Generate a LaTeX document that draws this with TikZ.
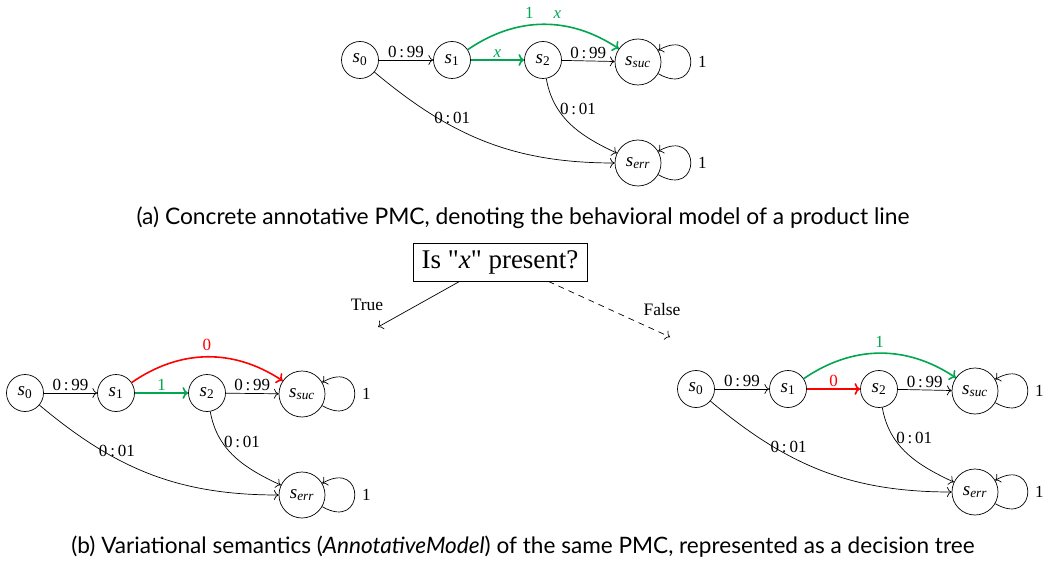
\documentclass[tikz,border=0pt]{standalone}
\usepackage{fontspec}
\usetikzlibrary{arrows.meta}
\setmainfont{Liberation Serif}
\newfontfamily\capfont{Lato}
\newfontfamily\qfont{Liberation Serif}[Ligatures=TeXOff]
\definecolor{pgreen}{RGB}{0,166,80}
\definecolor{pred}{RGB}{255,0,0}
\newcommand{\sv}[1]{\textit{s}\textsubscript{#1}}
\newcommand{\pr}[2]{#1\,:\,#2}
\tikzset{
  st/.style={draw, circle, minimum size=37pt, inner sep=0pt, line width=0.7pt, font=\fontsize{19}{21}\selectfont},
  stb/.style={st, minimum size=46pt},
  arr/.style={-{To[scale=1.5]}, line width=0.7pt},
  garr/.style={-{To[scale=1.1]}, line width=1.6pt, draw=pgreen},
  rarr/.style={-{To[scale=1.1]}, line width=1.6pt, draw=pred},
  lab/.style={font=\fontsize{17}{19}\selectfont, inner sep=2pt},
  glab/.style={lab, text=pgreen},
  rlab/.style={lab, text=pred},
  capt/.style={font=\capfont\fontsize{22.8}{26}\selectfont},
  captb/.style={font=\capfont\fontsize{22.6}{26}\selectfont},
  qbox/.style={draw, line width=0.8pt, minimum width=174pt, minimum height=38pt, font=\qfont\fontsize{27}{30}\selectfont},
  tlab/.style={font=\fontsize{17.5}{20}\selectfont},
  lp/.style={out=-30,in=30,looseness=5.5},
  lpl/.style={lab, right, inner sep=7pt},
  arcl/.style={above, inner sep=5pt},
}
\begin{document}
\begin{tikzpicture}[x=1pt,y=1pt]
\useasboundingbox (0,0) rectangle (1043,-569);
% ---------- (a) top diagram ----------
\node[st] (a0) at (360,-60) {\sv{0}};
\node[st] (a1) at (452,-60) {\sv{1}};
\node[st] (a2) at (543,-60) {\sv{2}};
\node[stb] (asuc) at (638,-62) {\sv{\textit{suc}}};
\node[stb] (aerr) at (638,-163) {\sv{\textit{err}}};
\draw[arr] (a0) -- node[lab,above]{\pr{0}{99}} (a1);
\draw[garr] (a1) -- node[glab,above]{\textit{x}} (a2);
\draw[arr] (a2) -- node[lab,above]{\pr{0}{99}} (asuc);
\draw[garr] (a1) to[bend left=34] node[glab,arcl]{1\hspace{20pt}\textit{x}} (asuc);
\draw[arr] (a0) to[out=-40,in=180] node[lab,above,pos=0.35]{\pr{0}{01}} (aerr);
\draw[arr] (a2) to[out=-80,in=155] node[lab,right,pos=0.3]{\pr{0}{01}} (aerr);
\draw[arr] (asuc) to[lp] node[lpl]{1} (asuc);
\draw[arr] (aerr) to[lp] node[lpl]{1} (aerr);
\node[capt] (capa) at (523,-218) {(a) Concrete annotative PMC, denoting the behavioral model of a product line};
% ---------- decision ----------
\node[qbox] (q) at (500,-262) {Is "\textit{x}" present?};
\coordinate (tstart) at ([xshift=47pt]q.south west);
\coordinate (tend) at (378,-327);
\coordinate (fstart) at ([xshift=-39pt]q.south east);
\coordinate (fend) at (670,-337);
\draw[arr] (tstart) -- (tend);
\node[tlab] (tl) at (367,-305) {True};
\draw[arr, dash pattern=on 6pt off 5pt] (fstart) -- (fend);
\node[tlab] (fl) at (662,-310) {False};
% ---------- (b) left: x true ----------
\node[st] (b0) at (25,-393) {\sv{0}};
\node[st] (b1) at (116,-393) {\sv{1}};
\node[st] (b2) at (207,-393) {\sv{2}};
\node[stb] (bsuc) at (302,-394) {\sv{\textit{suc}}};
\node[stb] (berr) at (302,-495) {\sv{\textit{err}}};
\draw[arr] (b0) -- node[lab,above]{\pr{0}{99}} (b1);
\draw[garr] (b1) -- node[glab,above]{1} (b2);
\draw[arr] (b2) -- node[lab,above]{\pr{0}{99}} (bsuc);
\draw[rarr] (b1) to[bend left=34] node[rlab,arcl]{0} (bsuc);
\draw[arr] (b0) to[out=-40,in=180] node[lab,above,pos=0.35]{\pr{0}{01}} (berr);
\draw[arr] (b2) to[out=-80,in=155] node[lab,right,pos=0.3]{\pr{0}{01}} (berr);
\draw[arr] (bsuc) to[lp] node[lpl]{1} (bsuc);
\draw[arr] (berr) to[lp] node[lpl]{1} (berr);
% ---------- (b) right: x false ----------
\node[st] (c0) at (696,-389) {\sv{0}};
\node[st] (c1) at (788,-389) {\sv{1}};
\node[st] (c2) at (879,-389) {\sv{2}};
\node[stb] (csuc) at (975,-391) {\sv{\textit{suc}}};
\node[stb] (cerr) at (975,-492) {\sv{\textit{err}}};
\draw[arr] (c0) -- node[lab,above]{\pr{0}{99}} (c1);
\draw[rarr] (c1) -- node[rlab,above]{0} (c2);
\draw[arr] (c2) -- node[lab,above]{\pr{0}{99}} (csuc);
\draw[garr] (c1) to[bend left=34] node[glab,arcl]{1} (csuc);
\draw[arr] (c0) to[out=-40,in=180] node[lab,above,pos=0.35]{\pr{0}{01}} (cerr);
\draw[arr] (c2) to[out=-80,in=155] node[lab,right,pos=0.3]{\pr{0}{01}} (cerr);
\draw[arr] (csuc) to[lp] node[lpl]{1} (csuc);
\draw[arr] (cerr) to[lp] node[lpl]{1} (cerr);
\node[captb] (capb) at (523,-547) {(b) Variational semantics (\textit{AnnotativeModel}) of the same PMC, represented as a decision tree};
\end{tikzpicture}
\end{document}
